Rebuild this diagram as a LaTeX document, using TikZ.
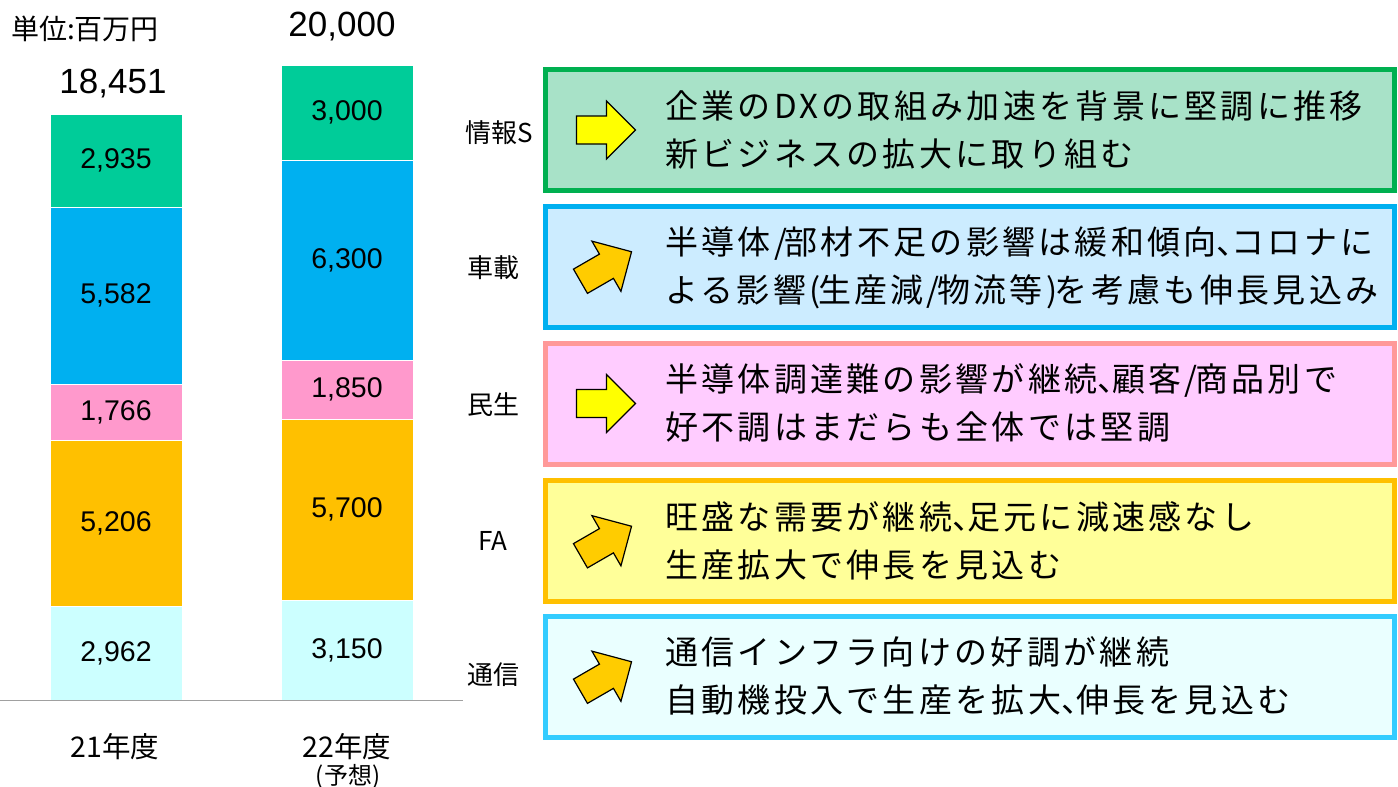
\documentclass[tikz,border=0pt]{standalone}
\usepackage{fontspec}
\setmainfont{Liberation Sans}
\newfontfamily\jp{Noto Sans CJK JP}
\newfontfamily\jpbox[LetterSpace=10]{Noto Sans CJK JP}
\newcommand\tou{\makebox[0.45em][l]{、}}
\newcommand\tk[1]{#1\kern-2.5pt}
\definecolor{cGr}{HTML}{00CC99}
\definecolor{cBl}{HTML}{00B0F0}
\definecolor{cPk}{HTML}{FF99CC}
\definecolor{cOr}{HTML}{FFC000}
\definecolor{cCy}{HTML}{CCFFFF}
\definecolor{fB1}{HTML}{A8E2C8}
\definecolor{dB1}{HTML}{00B050}
\definecolor{fB2}{HTML}{CCECFF}
\definecolor{dB2}{HTML}{00B0F0}
\definecolor{fB3}{HTML}{FFCCFF}
\definecolor{dB3}{HTML}{FF9999}
\definecolor{fB4}{HTML}{FFFF99}
\definecolor{dB4}{HTML}{FFC000}
\definecolor{fB5}{HTML}{EAFFFF}
\definecolor{dB5}{HTML}{33CCFF}
\definecolor{aYl}{HTML}{FFFF00}
\definecolor{aOr}{HTML}{FFCC00}
\definecolor{axisgray}{HTML}{A0A0A0}
\begin{document}
\begin{tikzpicture}[x=1pt,y=-1pt,
  seg/.style={rectangle, minimum width=132pt, inner sep=0pt, draw=white, line width=0.5pt,
              font=\fontsize{28.5}{32}\selectfont},
  total/.style={inner sep=0pt, font=\fontsize{35}{40}\selectfont},
  cat/.style={inner sep=0pt, font=\jp\fontsize{26}{30}\selectfont},
  yr/.style={inner sep=0pt, font=\jp\fontsize{28.5}{32}\selectfont},
  box/.style={rectangle, minimum width=849pt, minimum height=121pt, line width=5pt, inner sep=0pt},
  btxt/.style={anchor=base west, inner sep=0pt, font=\jpbox\fontsize{33}{38}\selectfont},
  rarr/.pic={\draw[line width=1.2pt, line join=miter, pic actions]
     (-29.5,-14) -- (0.5,-14) -- (0.5,-29) -- (29.5,0) -- (0.5,29) -- (0.5,14) -- (-29.5,14) -- cycle;}
]
\useasboundingbox (0,0) rectangle (1398,787);

% unit and totals
\node[anchor=west, inner sep=0pt, font=\jp\fontsize{28}{32}\selectfont] (unit) at (11,29) {単位:百万円};
\node[total] (tot1) at (113,84) {18,451};
\node[total] (tot2) at (342,27) {20,000};

% bar 21
\node[seg, fill=cCy, minimum height=94.07pt]  (a1) at (116,652.97) {2,962};
\node[seg, fill=cOr, minimum height=165.34pt] (a2) at (116,523.26) {5,206};
\node[seg, fill=cPk, minimum height=56.09pt]  (a3) at (116,412.55) {1,766};
\node[seg, fill=cBl, minimum height=177.28pt] (a4) at (116,295.86) {5,582};
\node[seg, fill=cGr, minimum height=93.22pt]  (a5) at (116,160.61) {2,935};

% bar 22
\node[seg, fill=cCy, minimum height=100.04pt] (b1) at (347,649.98) {3,150};
\node[seg, fill=cOr, minimum height=181.03pt] (b2) at (347,509.45) {5,700};
\node[seg, fill=cPk, minimum height=58.76pt]  (b3) at (347,389.55) {1,850};
\node[seg, fill=cBl, minimum height=200.09pt] (b4) at (347,260.13) {6,300};
\node[seg, fill=cGr, minimum height=95.28pt]  (b5) at (347,112.44) {3,000};

% axis
\coordinate (axL) at (0,700.5);
\coordinate (axR) at (463,700.5);
\draw[axisgray, line width=1.5pt] (axL) -- (axR);

% year labels
\node[yr] (y1) at (115,747) {21年度};
\node[yr] (y2) at (347,747) {22年度};
\node[inner sep=0pt, font=\jp\fontsize{24}{28}\selectfont] (y2b) at (348,777) {(予想)};

% category labels
\node[cat] (c1) at (499,133) {情報S};
\node[cat] (c2) at (493,268) {車載};
\node[cat] (c3) at (493,405) {民生};
\node[cat] (c4) at (493,541) {FA};
\node[cat] (c5) at (493,675) {通信};

% boxes
\node[box, draw=dB1, fill=fB1] (bx1) at (970,130) {};
\node[box, draw=dB2, fill=fB2] (bx2) at (970,266.5) {};
\node[box, draw=dB3, fill=fB3] (bx3) at (970,403.5) {};
\node[box, draw=dB4, fill=fB4] (bx4) at (970,541) {};
\node[box, draw=dB5, fill=fB5] (bx5) at (970,676.5) {};

% arrows
\pic[fill=aYl] at (606,130) {rarr};
\pic[fill=aOr, rotate=30] at (606,266.5) {rarr};
\pic[fill=aYl] at (606,403.5) {rarr};
\pic[fill=aOr, rotate=30] at (606,541) {rarr};
\pic[fill=aOr, rotate=30] at (606,676.5) {rarr};

% texts
\node[btxt] (t1a) at (665,118) {企業のDXの取組み加速を背景に堅調に推移};
\node[btxt] (t1b) at (665,166) {新ビジネスの拡大に取り組む};
\node[btxt] (t2a) at (665,254.5) {半導体\tk{/}部材不足の影響は緩和傾向\tou コロナに};
\node[btxt] (t2b) at (665,302.5) {よる影響\tk{(}生産減\tk{/}物流等\tk{)}を考慮も伸長見込み};
\node[btxt] (t3a) at (665,391.5) {半導体調達難の影響が継続\tou 顧客\tk{/}商品別で};
\node[btxt] (t3b) at (665,439.5) {好不調はまだらも全体では堅調};
\node[btxt] (t4a) at (665,529) {旺盛な需要が継続\tou 足元に減速感なし};
\node[btxt] (t4b) at (665,577) {生産拡大で伸長を見込む};
\node[btxt] (t5a) at (665,664.5) {通信インフラ向けの好調が継続};
\node[btxt] (t5b) at (665,712.5) {自動機投入で生産を拡大\tou 伸長を見込む};
\end{tikzpicture}
\end{document}
